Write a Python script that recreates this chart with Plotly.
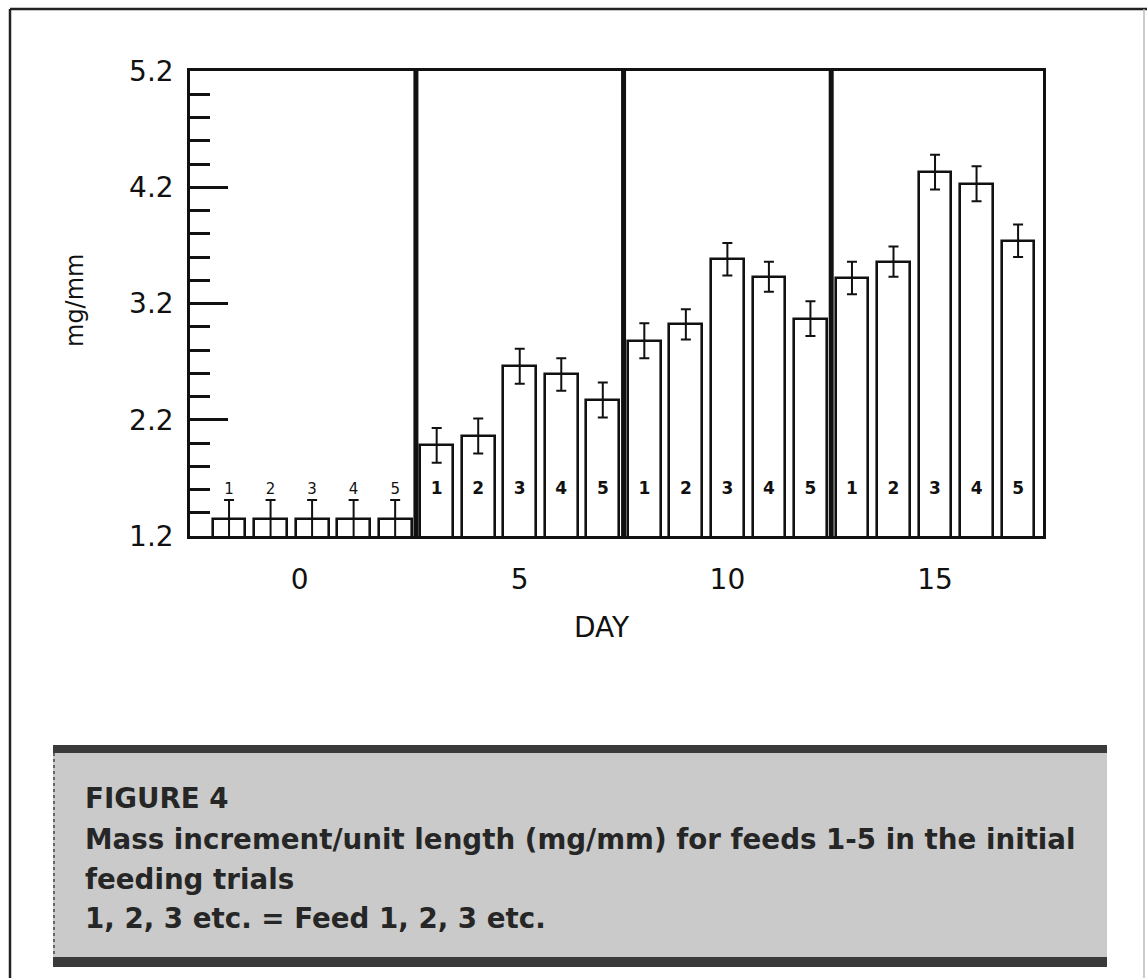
import plotly.graph_objects as go

# ---------------- data ----------------
days = [0, 5, 10, 15]
feeds = [1, 2, 3, 4, 5]
day_labels = ["0", "5", "10", "15"]

mass_day0 = [1.35, 1.35, 1.35, 1.35, 1.35]
mass_day5 = [1.98, 2.06, 2.66, 2.59, 2.37]
mass_day10 = [2.88, 3.02, 3.58, 3.43, 3.07]
mass_day15 = [3.42, 3.56, 4.33, 4.23, 3.74]

err_day0 = [0.16, 0.16, 0.16, 0.16, 0.16]
err_day5 = [0.15, 0.15, 0.15, 0.14, 0.15]
err_day10 = [0.15, 0.13, 0.14, 0.13, 0.15]
err_day15 = [0.14, 0.13, 0.15, 0.15, 0.14]

y_ticks = [1.2, 2.2, 3.2, 4.2, 5.2]

caption_lines = [
    "FIGURE 4",
    "Mass increment/unit length (mg/mm) for feeds 1-5 in the initial",
    "feeding trials",
    "1, 2, 3 etc. = Feed 1, 2, 3 etc.",
]

# ---------------- layout helpers ----------------
W, H = 1147, 978
L, R, T, B = 190, 1043, 71, 536


def px_x(p):
    return (p - L) / (R - L)


def px_y(p):
    return (B - p) / (B - T)


values = mass_day0 + mass_day5 + mass_day10 + mass_day15
errors = err_day0 + err_day5 + err_day10 + err_day15
nf = len(feeds)
xs = [d * nf + f for d in range(len(days)) for f in range(nf)]
labels = [str(f) for _ in days for f in feeds]

FONT = "DejaVu Sans"
INK = "#111111"

fig = go.Figure()
fig.add_trace(go.Bar(
    x=xs, y=values, width=0.79,
    marker=dict(color="white", line=dict(color=INK, width=2.6)),
    error_y=dict(type="data", array=errors, visible=True,
                 color=INK, thickness=2, width=5),
    showlegend=False, hoverinfo="skip",
))

label_y = 1.595
# day-0 labels (above the short bars)
fig.add_trace(go.Scatter(
    x=xs[:nf], y=[label_y] * nf, mode="text", text=labels[:nf],
    textfont=dict(family=FONT, size=15, color=INK),
    showlegend=False, hoverinfo="skip",
))
# other labels (inside bars)
fig.add_trace(go.Scatter(
    x=xs[nf:], y=[label_y] * (len(xs) - nf), mode="text", text=labels[nf:],
    textfont=dict(family=FONT, size=17, color=INK, weight="bold"),
    showlegend=False, hoverinfo="skip",
))

shapes = []
# thick separators between days
for k in range(1, len(days)):
    shapes.append(dict(type="line", xref="x", yref="paper",
                       x0=k * nf - 0.5, x1=k * nf - 0.5, y0=0, y1=1,
                       line=dict(color=INK, width=5)))

# outer page border
shapes.append(dict(type="line", xref="paper", yref="paper",
                   x0=px_x(10), x1=px_x(1147), y0=px_y(9), y1=px_y(9),
                   line=dict(color="#222222", width=2.5)))
shapes.append(dict(type="line", xref="paper", yref="paper",
                   x0=px_x(10), x1=px_x(10), y0=px_y(9), y1=px_y(978),
                   line=dict(color="#222222", width=2.5)))
shapes.append(dict(type="line", xref="paper", yref="paper",
                   x0=px_x(1144), x1=px_x(1144), y0=px_y(9), y1=px_y(978),
                   line=dict(color="#bbbbbb", width=1.5)))

# caption box
shapes.append(dict(type="rect", xref="paper", yref="paper", layer="below",
                   x0=px_x(53), x1=px_x(1107), y0=px_y(745), y1=px_y(967),
                   fillcolor="#cacaca", line=dict(width=0)))
shapes.append(dict(type="rect", xref="paper", yref="paper",
                   x0=px_x(53), x1=px_x(1107), y0=px_y(745), y1=px_y(753),
                   fillcolor="#3a3a3a", line=dict(width=0)))
shapes.append(dict(type="rect", xref="paper", yref="paper",
                   x0=px_x(53), x1=px_x(1107), y0=px_y(957), y1=px_y(967),
                   fillcolor="#3a3a3a", line=dict(width=0)))
shapes.append(dict(type="line", xref="paper", yref="paper",
                   x0=px_x(54), x1=px_x(54), y0=px_y(753), y1=px_y(957),
                   line=dict(color="#666666", width=2, dash="dot")))

annotations = []
# axis titles
annotations.append(dict(text="DAY", xref="paper", yref="paper",
                        x=px_x(602), y=px_y(627), showarrow=False,
                        xanchor="center", yanchor="middle",
                        font=dict(family=FONT, size=28, color=INK)))
annotations.append(dict(text="mg/mm", xref="paper", yref="paper",
                        x=px_x(75), y=px_y(301), showarrow=False, textangle=-90,
                        xanchor="center", yanchor="middle",
                        font=dict(family=FONT, size=24, color=INK)))

# caption text
cap_y = [798, 839, 879, 918]
for line, yy in zip(caption_lines, cap_y):
    annotations.append(dict(text=line, xref="paper", yref="paper",
                            x=px_x(83), y=px_y(yy), showarrow=False,
                            xanchor="left", yanchor="middle",
                            font=dict(family=FONT, size=27.7, color="#262626",
                                      weight="bold")))

day_tick_pos = [1.7] + [d * nf + 2 for d in range(1, len(days))]

fig.update_layout(
    width=W, height=H,
    margin=dict(l=L, r=W - R, t=T, b=H - B, pad=0),
    paper_bgcolor="white", plot_bgcolor="white",
    bargap=0, showlegend=False,
    shapes=shapes, annotations=annotations,
    xaxis=dict(
        range=[-0.94, 19.6], showgrid=False, zeroline=False,
        showline=True, mirror=True, linecolor=INK, linewidth=2.5,
        tickmode="array", tickvals=day_tick_pos, ticktext=day_labels,
        ticks="", ticklabelstandoff=17,
        tickfont=dict(family=FONT, size=28, color=INK),
    ),
    yaxis=dict(
        range=[1.2, 5.2], showgrid=False, zeroline=False,
        showline=True, mirror=True, linecolor=INK, linewidth=2.5,
        tickmode="array", tickvals=y_ticks, ticktext=[f"{v:.1f}" for v in y_ticks],
        ticks="inside", ticklen=38, tickwidth=2.5, tickcolor=INK,
        ticklabelstandoff=8,
        tickfont=dict(family=FONT, size=28, color=INK),
        minor=dict(ticks="inside", ticklen=20, tickwidth=2.5,
                   tickcolor=INK, dtick=0.2, tick0=1.2, showgrid=False),
    ),
)

fig.write_html("out.html")
